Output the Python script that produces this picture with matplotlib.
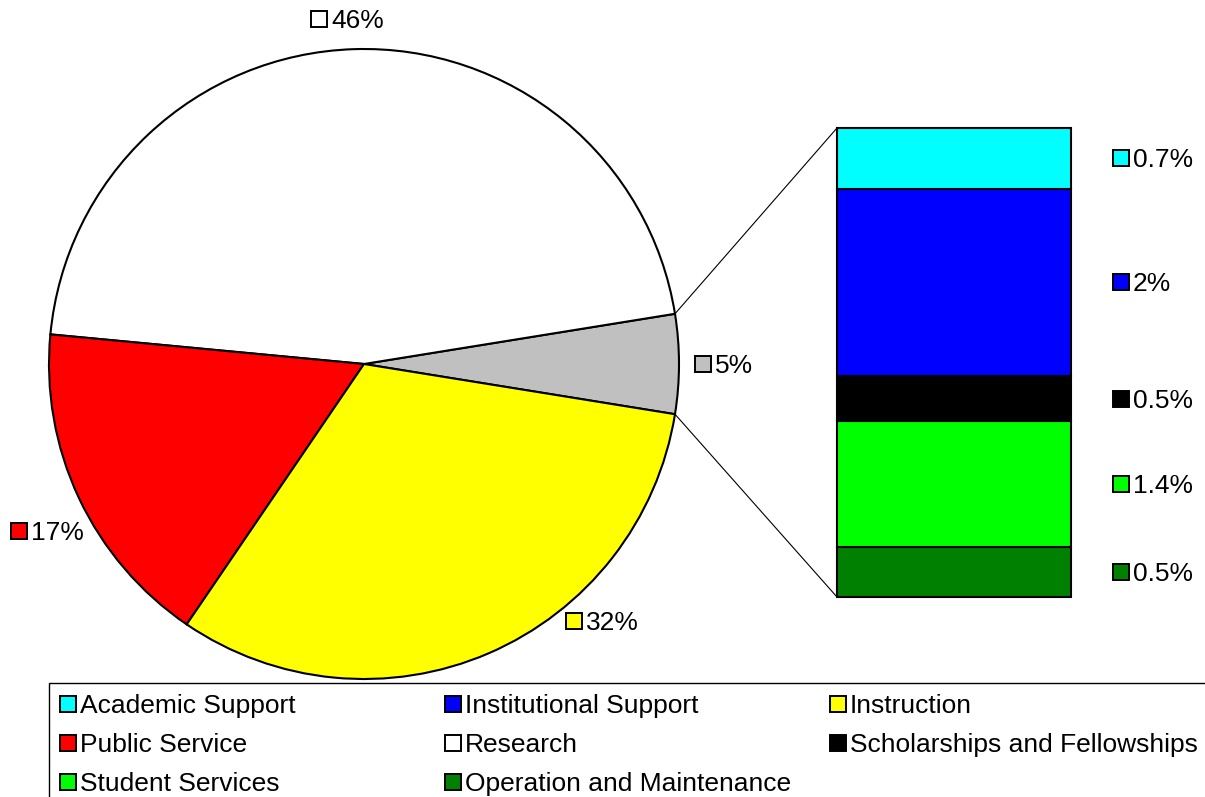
import numpy as np
import matplotlib
matplotlib.use('Agg')
import matplotlib.pyplot as plt
import matplotlib.patches as patches
from matplotlib.patches import ConnectionPatch
from matplotlib.transforms import offset_copy

plt.rcParams['font.family'] = ['Liberation Sans', 'DejaVu Sans']

# pie: "other" slice (gray) is broken out into the stacked bar
pie_labels = ['Other', 'Research', 'Public Service', 'Instruction']
pie_colors = ['#c0c0c0', '#ffffff', '#ff0000', '#ffff00']
research = 46
public_service = 17
instruction = 32

# bar, from bottom to top
bar_labels = ['Operation and Maintenance', 'Student Services',
              'Scholarships and Fellowships', 'Institutional Support',
              'Academic Support']
bar_values = [0.54, 1.37, 0.49, 2.04, 0.66]
bar_colors = ['#008000', '#00ff00', '#000000', '#0000ff', '#00ffff']

legend_labels = ['Academic Support', 'Institutional Support', 'Instruction',
                 'Public Service', 'Research', 'Scholarships and Fellowships',
                 'Student Services', 'Operation and Maintenance']
legend_colors = ['#00ffff', '#0000ff', '#ffff00', '#ff0000', '#ffffff',
                 '#000000', '#00ff00', '#008000']

other = sum(bar_values)
pie_values = [other, research, public_service, instruction]


def fmt(v):
    s = '%.1f' % v
    if s.endswith('.0'):
        s = s[:-2]
    return s + '%'


W, H = 1205, 797
fig = plt.figure(figsize=(W / 100, H / 100), dpi=100)
ax = fig.add_axes([0, 0, 1, 1])

cx, cy, r = 364, H - 364, 315
total = sum(pie_values)
start = -other / total * 360 / 2
wedges, _ = ax.pie(pie_values, colors=pie_colors, startangle=start,
                   center=(cx, cy), radius=r,
                   wedgeprops=dict(edgecolor='black', linewidth=1.5))
ax.set_xlim(0, W)
ax.set_ylim(0, H)
ax.set_aspect('equal')
ax.axis('off')

FS = 19


def tag(axis, x, y, text, color, trans=None):
    if trans is None:
        trans = axis.transData
    axis.plot([x], [y], marker='s', ms=11, mfc=color, mec='black', mew=1.4,
              transform=trans, clip_on=False)
    axis.text(x, y, text, transform=offset_copy(trans, fig=fig, x=12, y=-2, units='dots'),
              ha='left', va='center', fontsize=FS, clip_on=False)


# pie labels, offsets in pie-radius units
label_offsets = [(1.076, 0.0), (-0.143, 1.095), (-1.095, -0.53), (0.667, -0.816)]
for v, c, (ox, oy) in zip(pie_values, pie_colors, label_offsets):
    tag(ax, cx + ox * r, cy + oy * r, '%d%%' % round(v), c)

# stacked bar
ax2 = fig.add_axes([837 / W, 200 / H, 234 / W, 469 / H])
bottoms = np.concatenate([[0], np.cumsum(bar_values)[:-1]])
ax2.bar(0, bar_values, bottom=bottoms, width=1, color=bar_colors,
        edgecolor='black', linewidth=1.5, clip_on=False)
ax2.set_xlim(-0.5, 0.5)
ax2.set_ylim(0, other)
ax2.axis('off')

lab_trans = offset_copy(ax2.transData, fig=fig, x=50, y=0, units='dots')
for v, b, c in zip(bar_values, bottoms, bar_colors):
    tag(ax2, 0.5, b + v / 2, fmt(v), c, trans=lab_trans)

# connector lines from gray slice to bar
half = np.deg2rad(other / total * 360 / 2)
for sgn, yb in [(1, other), (-1, 0)]:
    con = ConnectionPatch(xyA=(cx + r * np.cos(half), cy + sgn * r * np.sin(half)),
                          coordsA=ax.transData, xyB=(-0.5, yb), coordsB=ax2.transData,
                          color='black', linewidth=0.8)
    fig.add_artist(con)

# legend, laid out on a 3-column grid
ax.add_patch(patches.Rectangle((49, -10), W, H - 683 + 10, fill=False,
                               edgecolor='black', linewidth=1.0, clip_on=False))
col_x = [68, 453, 838]
row_y = [704, 743, 782]
for i, (lab, c) in enumerate(zip(legend_labels, legend_colors)):
    tag(ax, col_x[i % 3], H - row_y[i // 3], lab, c)

plt.savefig('out.png', dpi=100)
